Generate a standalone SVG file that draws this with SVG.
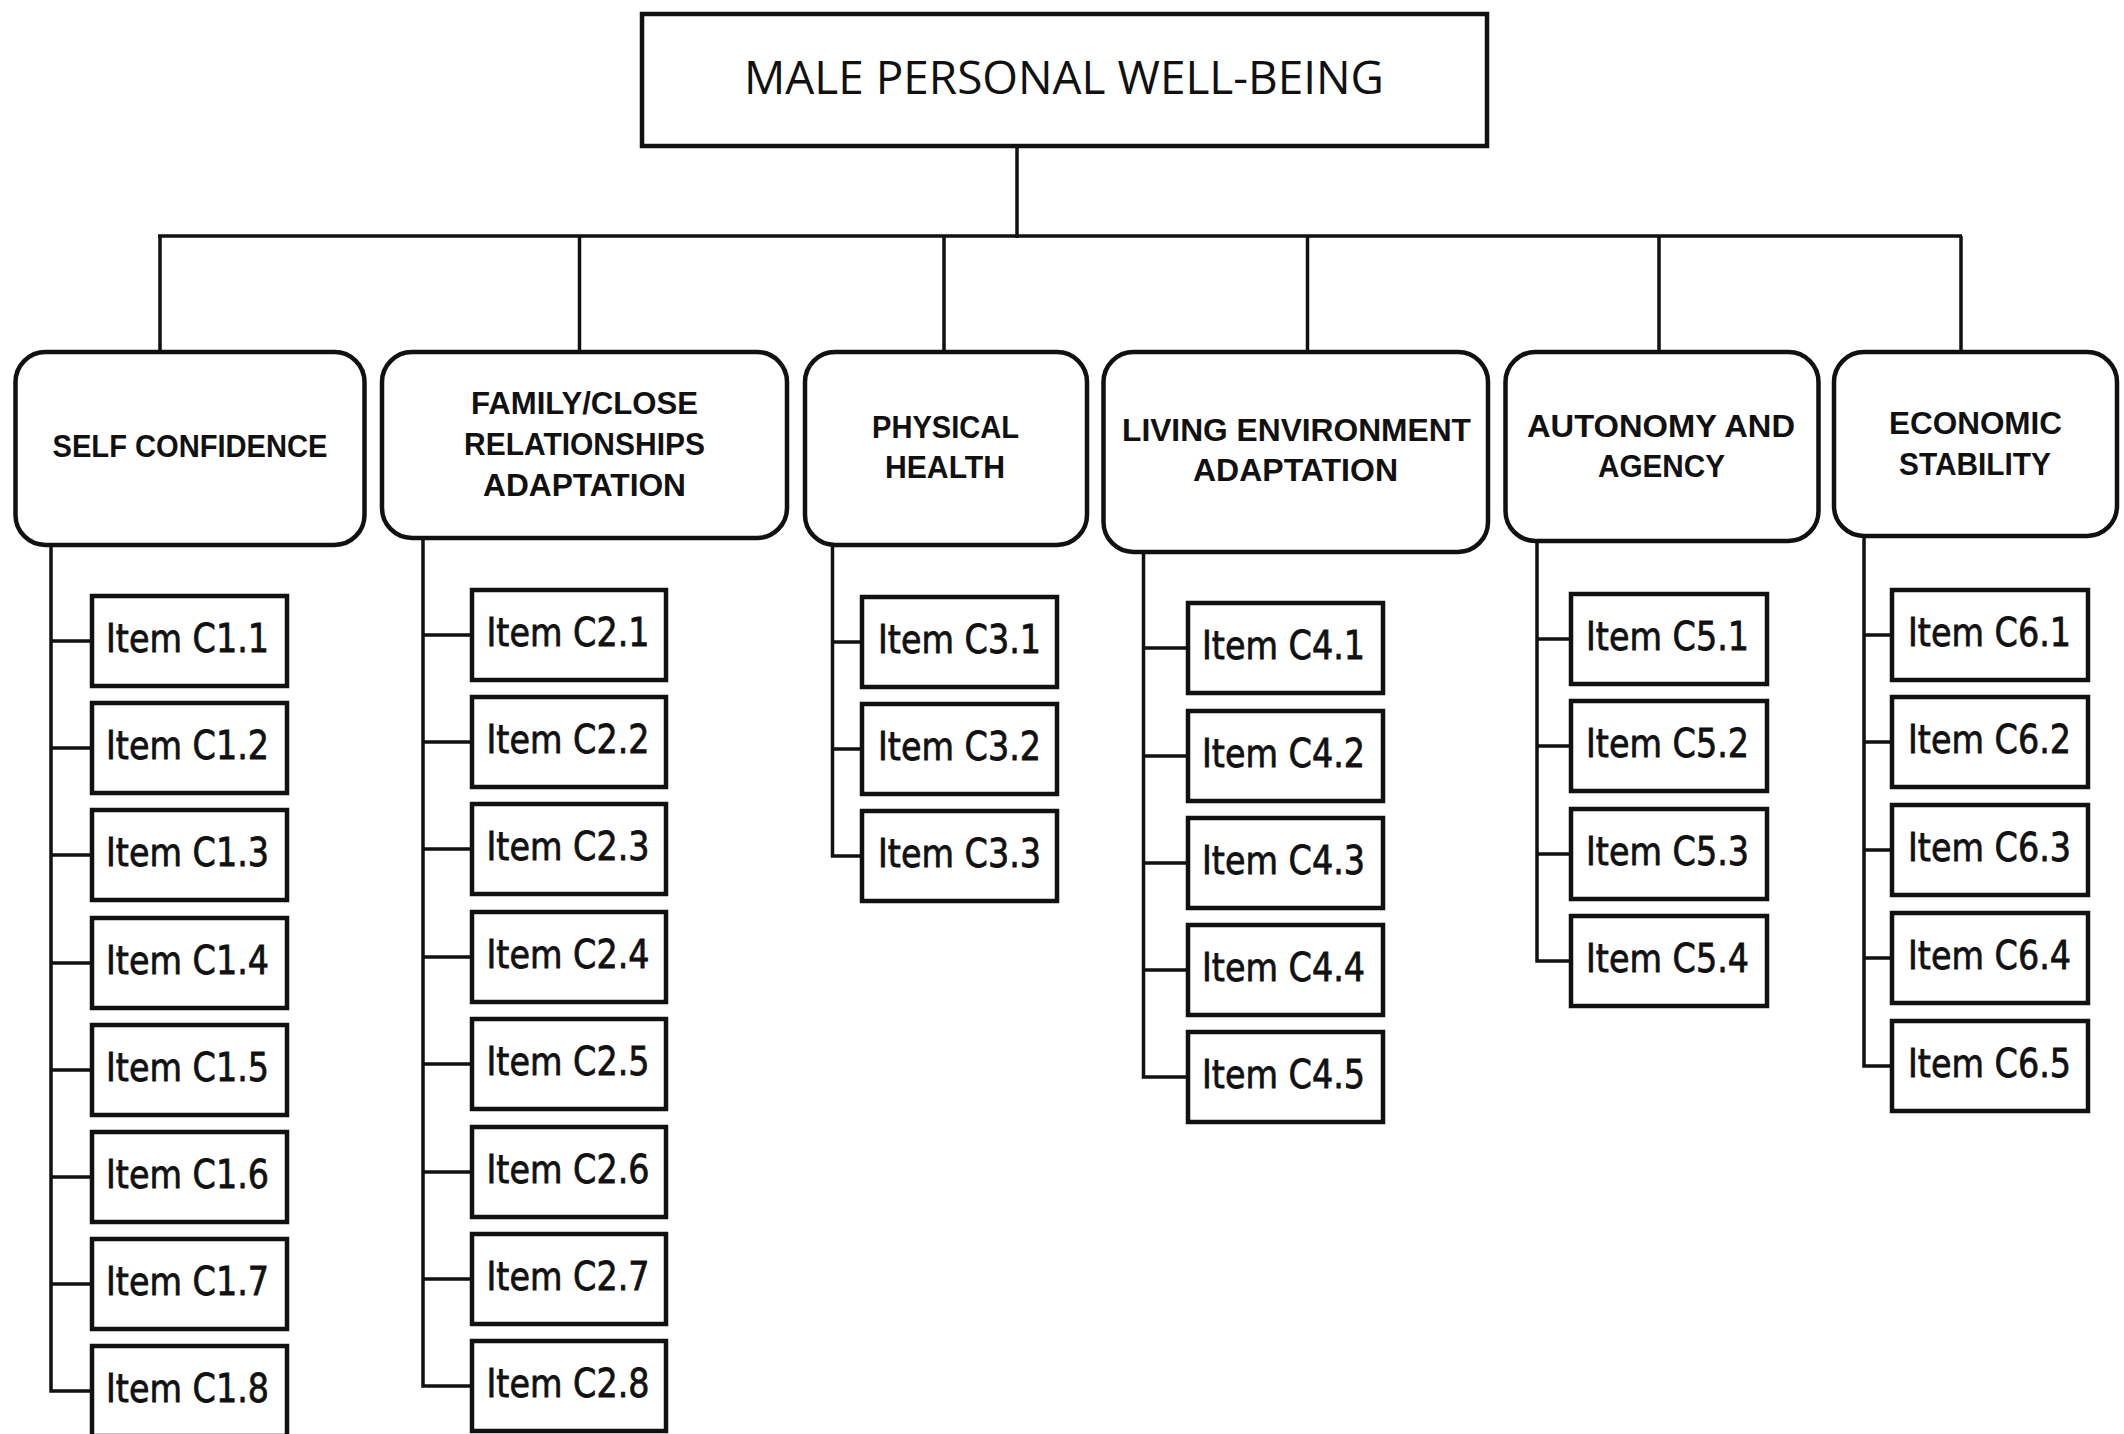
<svg xmlns="http://www.w3.org/2000/svg" width="2124" height="1434" viewBox="0 0 2124 1434">
<style>
.bx{fill:#fff;stroke:#111;stroke-width:4.5}
.cat{fill:#fff;stroke:#111;stroke-width:4.5}
.ln{fill:none;stroke:#111;stroke-width:3.5}
.ttl{font-family:"Open Sans","Liberation Sans",Arial,sans-serif;font-size:46px;fill:#111}
.hd{font-family:"Liberation Sans",Arial,sans-serif;font-weight:bold;font-size:32px;fill:#111;text-anchor:middle}
.it{font-family:"DejaVu Sans",Verdana,sans-serif;font-size:39px;fill:#111;stroke:#111;stroke-width:0.8}
</style>
<rect width="2124" height="1434" fill="#fff"/>
<g id="connectors">
<path class="ln" d="M1017,146 V238 M158,236 H1962 M160,236 V352 M579.5,236 V352 M944,236 V352 M1307.5,236 V352 M1659,236 V352 M1961,236 V352"/>
<path class="ln" d="M51,545 V1391 H92 M51,641 H92 M51,748 H92 M51,855 H92 M51,963 H92 M51,1070 H92 M51,1177 H92 M51,1284 H92"/>
<path class="ln" d="M423,538 V1386 H472 M423,635 H472 M423,742 H472 M423,849 H472 M423,957 H472 M423,1064 H472 M423,1172 H472 M423,1279 H472"/>
<path class="ln" d="M832.5,545 V856 H862 M832.5,642 H862 M832.5,749 H862"/>
<path class="ln" d="M1143.5,552 V1077 H1188 M1143.5,648 H1188 M1143.5,756 H1188 M1143.5,863 H1188 M1143.5,970 H1188"/>
<path class="ln" d="M1537,541 V961 H1571 M1537,639 H1571 M1537,746 H1571 M1537,854 H1571"/>
<path class="ln" d="M1864,536 V1066 H1892 M1864,635 H1892 M1864,742 H1892 M1864,850 H1892 M1864,958 H1892"/>
</g>
<g id="root">
<rect class="bx" x="642" y="14" width="845" height="132"/>
<text class="ttl" x="1064" y="93.5" text-anchor="middle" textLength="640" lengthAdjust="spacingAndGlyphs">MALE PERSONAL WELL-BEING</text>
</g>
<g id="cat1">
<rect class="cat" x="15.5" y="352" width="349" height="193" rx="30" ry="30"/>
<text class="hd" x="190" y="457" textLength="275" lengthAdjust="spacingAndGlyphs">SELF CONFIDENCE</text>
</g>
<g id="cat2">
<rect class="cat" x="382" y="352" width="405" height="186" rx="30" ry="30"/>
<text class="hd" x="584.5" y="414" textLength="227" lengthAdjust="spacingAndGlyphs">FAMILY/CLOSE</text>
<text class="hd" x="584.5" y="455" textLength="241" lengthAdjust="spacingAndGlyphs">RELATIONSHIPS</text>
<text class="hd" x="584.5" y="496" textLength="203" lengthAdjust="spacingAndGlyphs">ADAPTATION</text>
</g>
<g id="cat3">
<rect class="cat" x="805" y="352" width="282" height="193" rx="30" ry="30"/>
<text class="hd" x="945.5" y="437.5" textLength="147" lengthAdjust="spacingAndGlyphs">PHYSICAL</text>
<text class="hd" x="945" y="478" textLength="120" lengthAdjust="spacingAndGlyphs">HEALTH</text>
</g>
<g id="cat4">
<rect class="cat" x="1103.5" y="352" width="384.5" height="200" rx="30" ry="30"/>
<text class="hd" x="1296.5" y="441" textLength="349" lengthAdjust="spacingAndGlyphs">LIVING ENVIRONMENT</text>
<text class="hd" x="1295.5" y="481" textLength="205" lengthAdjust="spacingAndGlyphs">ADAPTATION</text>
</g>
<g id="cat5">
<rect class="cat" x="1505.5" y="352" width="313" height="189" rx="30" ry="30"/>
<text class="hd" x="1661" y="436.5" textLength="268" lengthAdjust="spacingAndGlyphs">AUTONOMY AND</text>
<text class="hd" x="1661.5" y="477" textLength="127" lengthAdjust="spacingAndGlyphs">AGENCY</text>
</g>
<g id="cat6">
<rect class="cat" x="1834" y="352" width="283" height="184" rx="30" ry="30"/>
<text class="hd" x="1975.5" y="434" textLength="173" lengthAdjust="spacingAndGlyphs">ECONOMIC</text>
<text class="hd" x="1975" y="475" textLength="152" lengthAdjust="spacingAndGlyphs">STABILITY</text>
</g>
<g id="items-c1">
<g id="c1-1"><rect class="bx" x="92" y="596" width="195" height="90"/><text class="it" x="106" y="652" textLength="163" lengthAdjust="spacingAndGlyphs">Item C1.1</text></g>
<g id="c1-2"><rect class="bx" x="92" y="703" width="195" height="90"/><text class="it" x="106" y="759" textLength="163" lengthAdjust="spacingAndGlyphs">Item C1.2</text></g>
<g id="c1-3"><rect class="bx" x="92" y="810" width="195" height="90"/><text class="it" x="106" y="866" textLength="163" lengthAdjust="spacingAndGlyphs">Item C1.3</text></g>
<g id="c1-4"><rect class="bx" x="92" y="918" width="195" height="90"/><text class="it" x="106" y="974" textLength="163" lengthAdjust="spacingAndGlyphs">Item C1.4</text></g>
<g id="c1-5"><rect class="bx" x="92" y="1025" width="195" height="90"/><text class="it" x="106" y="1081" textLength="163" lengthAdjust="spacingAndGlyphs">Item C1.5</text></g>
<g id="c1-6"><rect class="bx" x="92" y="1132" width="195" height="90"/><text class="it" x="106" y="1188" textLength="163" lengthAdjust="spacingAndGlyphs">Item C1.6</text></g>
<g id="c1-7"><rect class="bx" x="92" y="1239" width="195" height="90"/><text class="it" x="106" y="1295" textLength="163" lengthAdjust="spacingAndGlyphs">Item C1.7</text></g>
<g id="c1-8"><rect class="bx" x="92" y="1346" width="195" height="90"/><text class="it" x="106" y="1402" textLength="163" lengthAdjust="spacingAndGlyphs">Item C1.8</text></g>
</g>
<g id="items-c2">
<g id="c2-1"><rect class="bx" x="472" y="590" width="194" height="90"/><text class="it" x="486.5" y="646" textLength="163" lengthAdjust="spacingAndGlyphs">Item C2.1</text></g>
<g id="c2-2"><rect class="bx" x="472" y="697" width="194" height="90"/><text class="it" x="486.5" y="753" textLength="163" lengthAdjust="spacingAndGlyphs">Item C2.2</text></g>
<g id="c2-3"><rect class="bx" x="472" y="804" width="194" height="90"/><text class="it" x="486.5" y="860" textLength="163" lengthAdjust="spacingAndGlyphs">Item C2.3</text></g>
<g id="c2-4"><rect class="bx" x="472" y="912" width="194" height="90"/><text class="it" x="486.5" y="968" textLength="163" lengthAdjust="spacingAndGlyphs">Item C2.4</text></g>
<g id="c2-5"><rect class="bx" x="472" y="1019" width="194" height="90"/><text class="it" x="486.5" y="1075" textLength="163" lengthAdjust="spacingAndGlyphs">Item C2.5</text></g>
<g id="c2-6"><rect class="bx" x="472" y="1127" width="194" height="90"/><text class="it" x="486.5" y="1183" textLength="163" lengthAdjust="spacingAndGlyphs">Item C2.6</text></g>
<g id="c2-7"><rect class="bx" x="472" y="1234" width="194" height="90"/><text class="it" x="486.5" y="1290" textLength="163" lengthAdjust="spacingAndGlyphs">Item C2.7</text></g>
<g id="c2-8"><rect class="bx" x="472" y="1341" width="194" height="90"/><text class="it" x="486.5" y="1397" textLength="163" lengthAdjust="spacingAndGlyphs">Item C2.8</text></g>
</g>
<g id="items-c3">
<g id="c3-1"><rect class="bx" x="862" y="597" width="195" height="90"/><text class="it" x="878" y="653" textLength="163" lengthAdjust="spacingAndGlyphs">Item C3.1</text></g>
<g id="c3-2"><rect class="bx" x="862" y="704" width="195" height="90"/><text class="it" x="878" y="760" textLength="163" lengthAdjust="spacingAndGlyphs">Item C3.2</text></g>
<g id="c3-3"><rect class="bx" x="862" y="811" width="195" height="90"/><text class="it" x="878" y="867" textLength="163" lengthAdjust="spacingAndGlyphs">Item C3.3</text></g>
</g>
<g id="items-c4">
<g id="c4-1"><rect class="bx" x="1188" y="603" width="195" height="90"/><text class="it" x="1202" y="659" textLength="163" lengthAdjust="spacingAndGlyphs">Item C4.1</text></g>
<g id="c4-2"><rect class="bx" x="1188" y="711" width="195" height="90"/><text class="it" x="1202" y="767" textLength="163" lengthAdjust="spacingAndGlyphs">Item C4.2</text></g>
<g id="c4-3"><rect class="bx" x="1188" y="818" width="195" height="90"/><text class="it" x="1202" y="874" textLength="163" lengthAdjust="spacingAndGlyphs">Item C4.3</text></g>
<g id="c4-4"><rect class="bx" x="1188" y="925" width="195" height="90"/><text class="it" x="1202" y="981" textLength="163" lengthAdjust="spacingAndGlyphs">Item C4.4</text></g>
<g id="c4-5"><rect class="bx" x="1188" y="1032" width="195" height="90"/><text class="it" x="1202" y="1088" textLength="163" lengthAdjust="spacingAndGlyphs">Item C4.5</text></g>
</g>
<g id="items-c5">
<g id="c5-1"><rect class="bx" x="1571" y="594" width="196" height="90"/><text class="it" x="1586" y="650" textLength="163" lengthAdjust="spacingAndGlyphs">Item C5.1</text></g>
<g id="c5-2"><rect class="bx" x="1571" y="701" width="196" height="90"/><text class="it" x="1586" y="757" textLength="163" lengthAdjust="spacingAndGlyphs">Item C5.2</text></g>
<g id="c5-3"><rect class="bx" x="1571" y="809" width="196" height="90"/><text class="it" x="1586" y="865" textLength="163" lengthAdjust="spacingAndGlyphs">Item C5.3</text></g>
<g id="c5-4"><rect class="bx" x="1571" y="916" width="196" height="90"/><text class="it" x="1586" y="972" textLength="163" lengthAdjust="spacingAndGlyphs">Item C5.4</text></g>
</g>
<g id="items-c6">
<g id="c6-1"><rect class="bx" x="1892" y="590" width="196" height="90"/><text class="it" x="1908" y="646" textLength="163" lengthAdjust="spacingAndGlyphs">Item C6.1</text></g>
<g id="c6-2"><rect class="bx" x="1892" y="697" width="196" height="90"/><text class="it" x="1908" y="753" textLength="163" lengthAdjust="spacingAndGlyphs">Item C6.2</text></g>
<g id="c6-3"><rect class="bx" x="1892" y="805" width="196" height="90"/><text class="it" x="1908" y="861" textLength="163" lengthAdjust="spacingAndGlyphs">Item C6.3</text></g>
<g id="c6-4"><rect class="bx" x="1892" y="913" width="196" height="90"/><text class="it" x="1908" y="969" textLength="163" lengthAdjust="spacingAndGlyphs">Item C6.4</text></g>
<g id="c6-5"><rect class="bx" x="1892" y="1021" width="196" height="90"/><text class="it" x="1908" y="1077" textLength="163" lengthAdjust="spacingAndGlyphs">Item C6.5</text></g>
</g>
</svg>
